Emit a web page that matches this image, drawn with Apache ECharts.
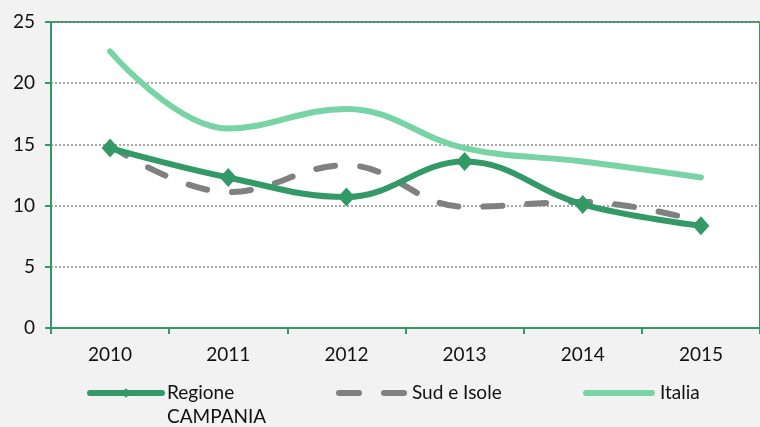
<!DOCTYPE html>
<html>
<head>
<meta charset="utf-8">
<script src="https://cdn.jsdelivr.net/npm/echarts@6/dist/echarts.min.js"></script>
<style>
  html, body { margin: 0; padding: 0; background: #f2f2f2; }
  #chart { width: 760px; height: 427px; }
</style>
</head>
<body>
<div id="chart"></div>
<script>
// dati del grafico
let anni = ['2010', '2011', '2012', '2013', '2014', '2015'];
let campania = [14.7, 12.3, 10.7, 13.6, 10.1, 8.35];
let sudIsole = [14.9, 11.1, 13.3, 9.9, 10.3, 8.7];
let italia = [22.6, 16.3, 17.9, 14.7, 13.6, 12.3];
let yTicks = [0, 25, 5]; // min, max, passo

let verde = '#339966';
let verdeChiaro = '#78d3a5';
let grigio = '#808080';
let font = 'Lato, "Open Sans", sans-serif';

// icone legenda
let iconaTratteggio = 'path://M3,0 H23 A3,3 0 0 1 23,6 H3 A3,3 0 0 1 3,0 Z M48,0 H68 A3,3 0 0 1 68,6 H48 A3,3 0 0 1 48,0 Z';
let iconaLinea = 'path://M3,0 H69 A3,3 0 0 1 69,6 H3 A3,3 0 0 1 3,0 Z';

let myChart = echarts.init(document.getElementById('chart'));

let testoLegenda = { fontSize: 19, lineHeight: 24, color: '#111', fontFamily: font };

let option = {
    backgroundColor: '#f2f2f2',
    animation: false,
    textStyle: { fontFamily: font },
    grid: {
        left: 51,
        top: 22,
        width: 717,
        height: 306,
        show: true,
        backgroundColor: '#ffffff',
        borderColor: verde,
        borderWidth: 2
    },
    xAxis: {
        type: 'category',
        data: anni,
        boundaryGap: true,
        axisLine: { lineStyle: { color: verde, width: 2 } },
        axisTick: { show: true, length: 6, lineStyle: { color: verde, width: 2 } },
        axisLabel: { color: '#111', fontSize: 19, margin: 17, fontFamily: font },
        splitLine: { show: false }
    },
    yAxis: {
        type: 'value',
        min: yTicks[0],
        max: yTicks[1],
        interval: yTicks[2],
        axisLine: { show: true, lineStyle: { color: verde, width: 2 } },
        axisTick: { show: true, length: 6, lineStyle: { color: verde, width: 2 } },
        axisLabel: { color: '#111', fontSize: 19, margin: 16, fontFamily: font },
        splitLine: { show: true, lineStyle: { color: '#8c8c8c', type: [2, 2], width: 1.5 } }
    },
    legend: [
        {
            data: ['Regione CAMPANIA'],
            left: 87, top: 357, padding: 0,
            itemWidth: 72, itemHeight: 12,
            lineStyle: { width: 6, cap: 'round' },
            // riga vuota sopra: l'icona resta centrata sulla prima riga del testo
            formatter: function () { return ' \nRegione\nCAMPANIA'; },
            textStyle: testoLegenda
        },
        {
            data: [{ name: 'Sud e Isole', icon: iconaTratteggio }],
            left: 336, top: 381, padding: 0,
            itemWidth: 71, itemHeight: 6,
            textStyle: testoLegenda
        },
        {
            data: [{ name: 'Italia', icon: iconaLinea }],
            left: 583, top: 381, padding: 0,
            itemWidth: 72, itemHeight: 6,
            textStyle: testoLegenda
        }
    ],
    series: [
        {
            name: 'Italia',
            type: 'line',
            data: italia,
            smooth: 0.4,
            symbol: 'none',
            z: 2,
            lineStyle: { color: verdeChiaro, width: 6, cap: 'round' },
            itemStyle: { color: verdeChiaro }
        },
        {
            name: 'Sud e Isole',
            type: 'line',
            data: sudIsole,
            smooth: 0.4,
            symbol: 'none',
            z: 3,
            lineStyle: { color: grigio, width: 6, type: [19, 25], cap: 'round' },
            itemStyle: { color: grigio }
        },
        {
            name: 'Regione CAMPANIA',
            type: 'line',
            data: campania,
            smooth: 0.4,
            symbol: 'diamond',
            symbolSize: [17, 19],
            z: 4,
            lineStyle: { color: verde, width: 6, cap: 'round' },
            itemStyle: { color: verde }
        }
    ]
};

myChart.setOption(option);
</script>
</body>
</html>
